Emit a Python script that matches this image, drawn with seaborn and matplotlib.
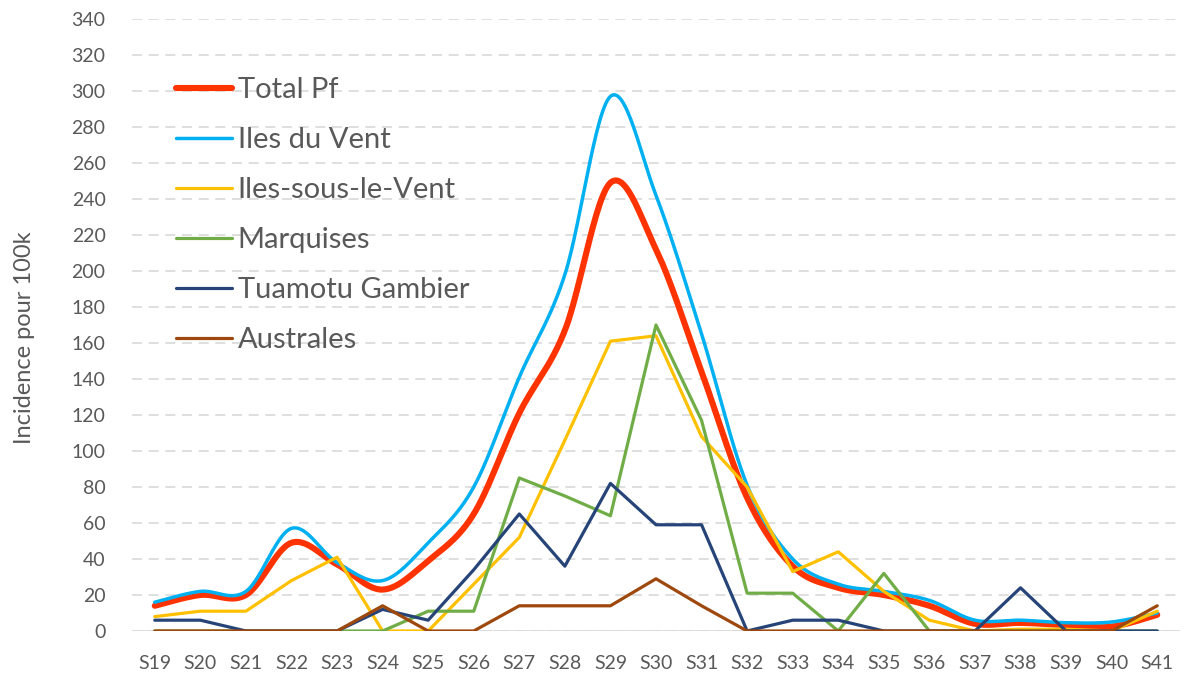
import matplotlib
matplotlib.use("Agg")
import matplotlib.pyplot as plt
import numpy as np
import pandas as pd
import seaborn as sns

weeks = ["S" + str(w) for w in range(19, 42)]

total_pf = [14, 20, 20, 49, 37, 23, 39, 65, 121, 167, 249, 212, 144, 74, 36, 24, 20, 14, 4, 4.5, 3.3, 2.4, 9]
iles_du_vent = [16, 22, 22, 57, 38, 28, 49, 80, 141, 198, 297, 242, 165, 81, 40, 26, 22, 17, 6, 6, 4.6, 5, 10]
iles_sous_le_vent = [8, 11, 11, 28, 41, 0, 0, 26, 52, 106, 161, 164, 108, 80, 33, 44, 22, 6, 0, 1, 1, 0, 11]
marquises = [0, 0, 0, 0, 0, 0, 11, 11, 85, 75, 64, 170, 117, 21, 21, 0, 32, 0, 0, 0, 0, 0, 0]
tuamotu_gambier = [6, 6, 0, 0, 0, 12, 6, 34, 65, 36, 82, 59, 59, 0, 6, 6, 0, 0, 0, 24, 0, 0, 0]
australes = [0, 0, 0, 0, 0, 14, 0, 0, 14, 14, 14, 29, 14, 0, 0, 0, 0, 0, 0, 0, 0, 0, 14]

series = [
    ("Total Pf", total_pf, "#FF3300", 4.4, True),
    ("Iles du Vent", iles_du_vent, "#00B0F0", 2.5, True),
    ("Iles-sous-le-Vent", iles_sous_le_vent, "#FFC000", 2.3, False),
    ("Marquises", marquises, "#70AD47", 2.3, False),
    ("Tuamotu Gambier", tuamotu_gambier, "#264478", 2.3, False),
    ("Australes", australes, "#9E480E", 2.3, False),
]

grey = "#595959"


def smooth(xs, ys, n=30):
    # Excel-like smoothed line: cubic bezier with catmull-rom control points
    p = np.column_stack([xs, ys]).astype(float)
    p = np.vstack([p[0], p, p[-1]])
    out = []
    t = np.linspace(0, 1, n)[:, None]
    for i in range(1, len(p) - 2):
        p0, p3 = p[i], p[i + 1]
        c1 = p0 + (p[i + 1] - p[i - 1]) / 6
        c2 = p3 - (p[i + 2] - p[i]) / 6
        seg = ((1 - t) ** 3) * p0 + 3 * ((1 - t) ** 2) * t * c1 + 3 * (1 - t) * t ** 2 * c2 + t ** 3 * p3
        out.append(seg if i == 1 else seg[1:])
    out = np.vstack(out)
    return out[:, 0], out[:, 1]


sns.set_theme(style="white")
plt.rcParams["font.family"] = ["Lato", "DejaVu Sans"]

fig = plt.figure(figsize=(11.87, 6.75), dpi=100)
ax = fig.add_axes([0.1112, 0.0652, 0.8829, 0.9067])

xpos = np.arange(len(weeks))
for name, vals, color, lw, is_smooth in series:
    if is_smooth:
        sx, sy = smooth(xpos, vals)
    else:
        sx, sy = xpos, np.array(vals, dtype=float)
    df = pd.DataFrame({"x": sx, "y": sy})
    sns.lineplot(data=df, x="x", y="y", ax=ax, color=color, linewidth=lw, label=name,
                 sort=False, estimator=None, solid_joinstyle="round", solid_capstyle="round")

ax.set_xlim(-0.5, len(weeks) - 0.5)
ax.set_ylim(0, 340)
ax.set_xticks(xpos)
ax.set_xticklabels(weeks)
ax.set_yticks(np.arange(0, 341, 20))
ax.tick_params(axis="x", length=0, pad=17, labelsize=14, labelcolor=grey)
ax.tick_params(axis="y", length=0, pad=19, labelsize=14, labelcolor=grey)
ax.set_xlabel("")
ax.set_ylabel("Incidence pour 100k", fontsize=17, color=grey)
ax.yaxis.set_label_coords(-0.0926, 0.479)

ax.set_axisbelow(True)
ax.yaxis.grid(True, color="#D9D9D9", linewidth=1.2, linestyle=(0, (6, 4)))
ax.axhline(0, color="#D9D9D9", linewidth=1.2, zorder=1)
for s in ax.spines.values():
    s.set_visible(False)

leg = ax.legend(loc="upper left", bbox_to_anchor=(0.0167, 0.9475), frameon=False, fontsize=21,
                handlelength=1.92, handletextpad=0.2, labelspacing=0.82, labelcolor=grey)

fig.savefig("out.png", dpi=100)
